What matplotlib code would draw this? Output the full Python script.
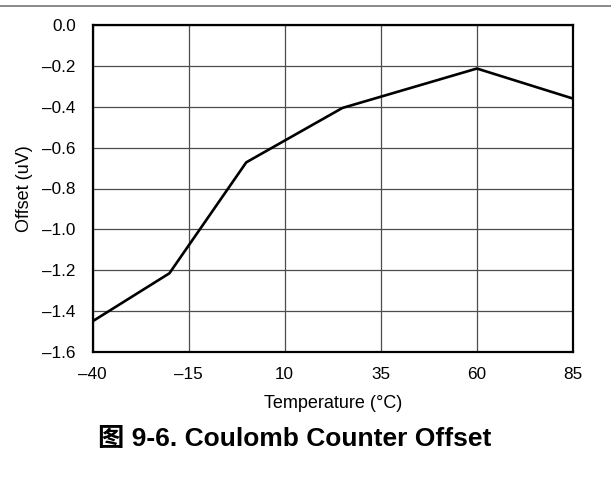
import matplotlib.pyplot as plt
from matplotlib.lines import Line2D

# data
temperature = [-40, -20, 0, 25, 60, 85]
offset = [-1.45, -1.215, -0.672, -0.406, -0.213, -0.36]

x_ticks = [-40, -15, 10, 35, 60, 85]
x_tick_labels = ['\u201340', '\u201315', '10', '35', '60', '85']
y_ticks = [0.0, -0.2, -0.4, -0.6, -0.8, -1.0, -1.2, -1.4, -1.6]
y_tick_labels = ['0.0', '\u20130.2', '\u20130.4', '\u20130.6', '\u20130.8',
                 '\u20131.0', '\u20131.2', '\u20131.4', '\u20131.6']

plt.rcParams['font.family'] = ['Liberation Sans', 'Noto Sans CJK SC', 'DejaVu Sans']

fig = plt.figure(figsize=(6.11, 4.93), dpi=100)
ax = fig.add_axes([92.5 / 611, 1 - 352 / 493, (573 - 92.5) / 611, (352 - 25) / 493])

ax.plot(temperature, offset, color='black', linewidth=1.9, zorder=3)

ax.set_xlim(-40, 85)
ax.set_ylim(-1.6, 0.0)
ax.set_xticks(x_ticks)
ax.set_xticklabels(x_tick_labels)
ax.set_yticks(y_ticks)
ax.set_yticklabels(y_tick_labels)
ax.tick_params(length=0, labelsize=12.3)
ax.tick_params(axis='x', pad=11)
ax.tick_params(axis='y', pad=12)
ax.grid(True, color='#4d4d4d', linewidth=0.9)

for s in ax.spines.values():
    s.set_linewidth(1.6)
    s.set_color('black')

ax.set_xlabel('Temperature (\u00b0C)', fontsize=13, labelpad=9)
ax.set_ylabel('Offset (uV)', fontsize=13, labelpad=7)

# gray rule at the top of the page
fig.add_artist(Line2D([0, 1], [1 - 5.7 / 493, 1 - 5.7 / 493], color='#777777', linewidth=1.2))

fig.text(0.482, 1 - 439 / 493, '\u56fe 9-6. Coulomb Counter Offset',
         fontsize=19, fontweight='bold', ha='center', va='center')

fig.savefig('out.png', dpi=100)
